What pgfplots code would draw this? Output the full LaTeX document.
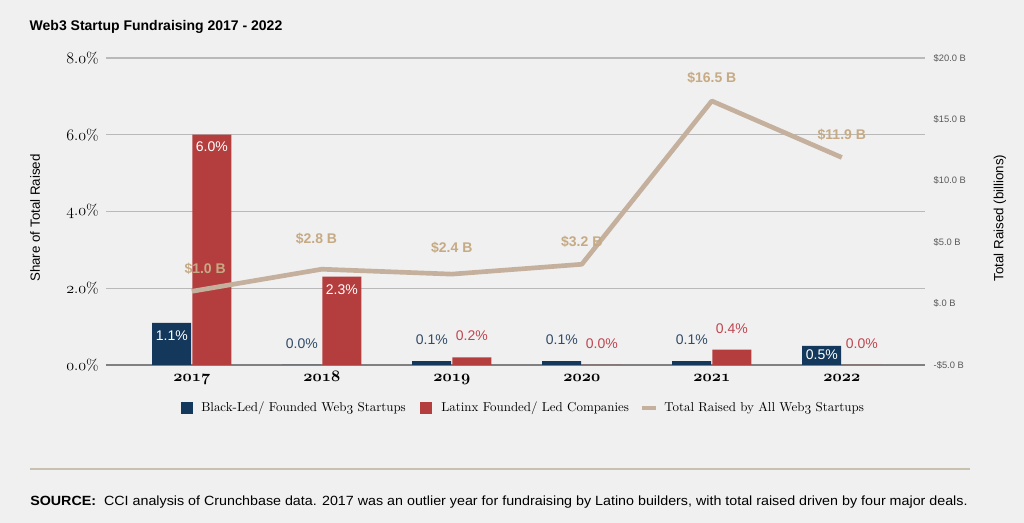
\documentclass[border=0pt]{standalone}
\usepackage{fontspec}
\usepackage{graphicx}
\usepackage{pgfplots}
\usepackage{pgfplotstable}
\pgfplotsset{compat=1.18}
\newfontfamily\sans{Liberation Sans}
% old-style figures from the math italic fonts
\newcommand\osn[1]{{\usefont{OML}{lmm}{m}{it}#1}}
\newcommand\osb[1]{{\usefont{OML}{cmm}{b}{it}#1}}

\definecolor{bg}{RGB}{240,240,240}
\definecolor{navy}{RGB}{19,56,92}
\definecolor{brick}{RGB}{180,62,62}
\definecolor{tanline}{RGB}{196,176,156}
\definecolor{tantext}{RGB}{198,170,132}
\definecolor{navytext}{RGB}{50,75,105}
\definecolor{bricktext}{RGB}{190,70,80}
\definecolor{gridgray}{RGB}{185,185,185}
\definecolor{rule}{RGB}{200,192,176}

% share of total raised (%), label offset in pt (negative = inside bar)
\pgfplotstableread{
x y off
0 1.1 -10
1 0.0 16
2 0.1 16
3 0.1 16
4 0.1 16
5 0.5 -7
}\blackled
\pgfplotstableread{
x y off
0 6.0 -9
1 2.3 -10
2 0.2 16
3 0.0 16
4 0.4 16
5 0.0 16
}\latinx
% total raised, billions
\pgfplotstableread{
x y xoff yoff
0 1.0 10 17
1 2.8 -4 23
2 2.4 0 20
3 3.2 0 17
4 16.5 0 17
5 11.9 0 17
}\total

\begin{document}
\begin{tikzpicture}[x=0.75pt,y=-0.75pt]
\fill[bg] (0,0) rectangle (1024,523);
\useasboundingbox (0,0) rectangle (1024,523);

\node[anchor=west, font=\sans\bfseries\fontsize{10.5}{12}\selectfont] at (25,27)
  {Web3 Startup Fundraising 2017 - 2022};

% left axis: bars
\begin{axis}[
  at={(79.5pt,-273.75pt)}, anchor=south west,
  scale only axis, width=614.25pt, height=230.25pt,
  xmin=-0.66, xmax=5.64, ymin=0, ymax=8,
  axis lines*=left,
  y axis line style={draw=none},
  x axis line style={draw=gray, line width=1pt},
  major tick length=0pt,
  ymajorgrids, grid style={gridgray, line width=0.9pt},
  ytick={0,2,4,6,8},
  yticklabels={{\osn{0}.\osn{0}\%},{\osn{2}.\osn{0}\%},{\osn{4}.\osn{0}\%},{\osn{6}.\osn{0}\%},{\osn{8}.\osn{0}\%}},
  yticklabel style={font=\fontsize{11.5}{13}\selectfont, xshift=-2pt},
  xtick={0,...,5},
  xticklabels={\osb{2017},\osb{2018},\osb{2019},\osb{2020},\osb{2021},\osb{2022}},
  xticklabel style={font=\fontsize{11.5}{13}\selectfont, text height=7pt, text depth=2pt, yshift=-2pt},
  clip=false,
  visualization depends on={\thisrow{off} \as \off},
  nodes near coords={\ifdim\off pt<0pt\color{white}\fi
    \pgfmathprintnumber[fixed,fixed zerofill,precision=1,assume math mode=true]{\pgfplotspointmeta}\%},
  every node near coord/.append style={font=\sans\fontsize{10.5}{12}\selectfont, anchor=center, yshift=\off pt},
]
\addplot[ybar, bar width=0.3, bar shift=-0.155, fill=navy, draw=none,
  every node near coord/.append style={text=navytext, xshift=-15pt}] table[x=x,y=y] {\blackled};
\addplot[ybar, bar width=0.3, bar shift=0.155, fill=brick, draw=none,
  every node near coord/.append style={text=bricktext, xshift=15pt}] table[x=x,y=y] {\latinx};
\end{axis}

% right axis: total raised line
\begin{axis}[
  at={(79.5pt,-273.75pt)}, anchor=south west,
  scale only axis, width=614.25pt, height=230.25pt,
  xmin=-0.66, xmax=5.64, ymin=-5, ymax=20,
  axis x line=none,
  axis y line*=right,
  y axis line style={draw=none},
  major tick length=0pt,
  ytick={-5,0,5,10,15,20},
  yticklabels={-\$5.0 B,\$.0 B,\$5.0 B,\$10.0 B,\$15.0 B,\$20.0 B},
  yticklabel style={font=\sans\fontsize{7}{8}\selectfont, text=black!65, xshift=3pt},
  clip=false,
  visualization depends on={\thisrow{xoff} \as \xoff},
  visualization depends on={\thisrow{yoff} \as \yoff},
  nodes near coords={\$\pgfmathprintnumber[fixed,fixed zerofill,precision=1,assume math mode=true]{\pgfplotspointmeta}~B},
  every node near coord/.append style={font=\sans\bfseries\fontsize{10.5}{12}\selectfont,
    text=tantext, anchor=center, xshift=\xoff pt, yshift=\yoff pt},
]
\addplot[tanline, line width=3.5pt, line join=round, mark=none] table[x=x,y=y] {\total};
\end{axis}

% axis titles
\node[rotate=90, font=\sans\fontsize{10}{12}\selectfont] at (35,218) {Share of Total Raised};
\node[rotate=90, font=\sans\fontsize{10}{12}\selectfont] at (1000,218) {Total Raised (billions)};

% legend
\fill[navy] (181,402) rectangle (193,414);
\node[anchor=west, inner sep=0pt, font=\fontsize{9.7}{12}\selectfont] at (201,408) {Black-Led/ Founded Web\osn{3} Startups};
\fill[brick] (420,402) rectangle (432,414);
\node[anchor=west, inner sep=0pt, font=\fontsize{9.7}{12}\selectfont] at (441,408) {Latinx Founded/ Led Companies};
\fill[tanline] (642,406) rectangle (656,410);
\node[anchor=west, inner sep=0pt, font=\fontsize{9.7}{12}\selectfont] at (664,408) {Total Raised by All Web\osn{3} Startups};

% source
\draw[rule, line width=1.2pt] (30,469) -- (970,469);
\node[anchor=west, inner sep=0pt] at (30,502)
  {\resizebox{703pt}{\height}{\sans\fontsize{10}{12}\selectfont\textbf{SOURCE:}\ \ CCI analysis of Crunchbase data. 2017 was an outlier year for fundraising by Latino builders, with total raised driven by four major deals.}};
\end{tikzpicture}
\end{document}
